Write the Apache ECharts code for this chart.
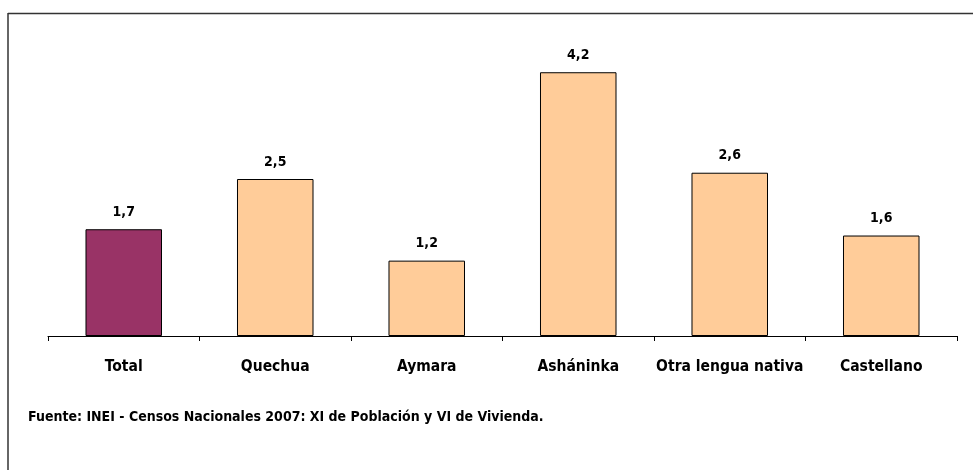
<!DOCTYPE html>
<html>
<head>
<meta charset="utf-8">
<script src="https://cdn.jsdelivr.net/npm/echarts@6/dist/echarts.min.js"></script>
<style>
  html, body { margin: 0; padding: 0; background: #fff; }
  #chart { width: 973px; height: 470px; }
</style>
</head>
<body>
<div id="chart"></div>
<script>
// 数据
const categories = ['Total', 'Quechua', 'Aymara', 'Asháninka', 'Otra lengua nativa', 'Castellano'];
const values = [1.7, 2.5, 1.2, 4.2, 2.6, 1.6];
const source = 'Fuente: INEI - Censos Nacionales 2007: XI de Población y VI de Vivienda.';

const font = '"DejaVu Sans Condensed", "Liberation Sans Narrow", "Arial Narrow", sans-serif';

const chart = echarts.init(document.getElementById('chart'));
chart.setOption({
    animation: false,
    backgroundColor: '#ffffff',
    grid: { left: 48, right: 16, top: 22, bottom: 134 },
    xAxis: {
        type: 'category',
        data: categories,
        axisLine: { lineStyle: { color: '#000', width: 1 } },
        axisTick: { show: true, interval: 0, length: 5, lineStyle: { color: '#000' } },
        axisLabel: {
            interval: 0,
            color: '#000', fontFamily: font, fontWeight: 'bold', fontSize: 15.5, margin: 23
        }
    },
    yAxis: {
        type: 'value', min: 0, max: 5,
        show: false,
        splitLine: { show: false }
    },
    series: [{
        type: 'bar',
        barWidth: '50.5%',
        data: values.map((v, i) => ({
            value: v,
            itemStyle: {
                color: i === 0 ? '#993366' : '#FFCC99',
                borderColor: '#000', borderWidth: 1
            }
        })),
        label: {
            show: true, position: 'top', distance: 10,
            color: '#000', fontFamily: font, fontWeight: 'bold', fontSize: 14,
            formatter: p => p.value.toFixed(1).replace('.', ',')
        }
    }],
    graphic: [
        { type: 'line', shape: { x1: 8, y1: 13.5, x2: 973, y2: 13.5 }, style: { stroke: '#333', lineWidth: 1.5 } },
        { type: 'line', shape: { x1: 8, y1: 13, x2: 8, y2: 470 }, style: { stroke: '#333', lineWidth: 1.5 } },
        {
            type: 'text', left: 28, top: 410,
            style: { text: source, fill: '#000', font: 'bold 14px ' + font }
        }
    ]
});
</script>
</body>
</html>
